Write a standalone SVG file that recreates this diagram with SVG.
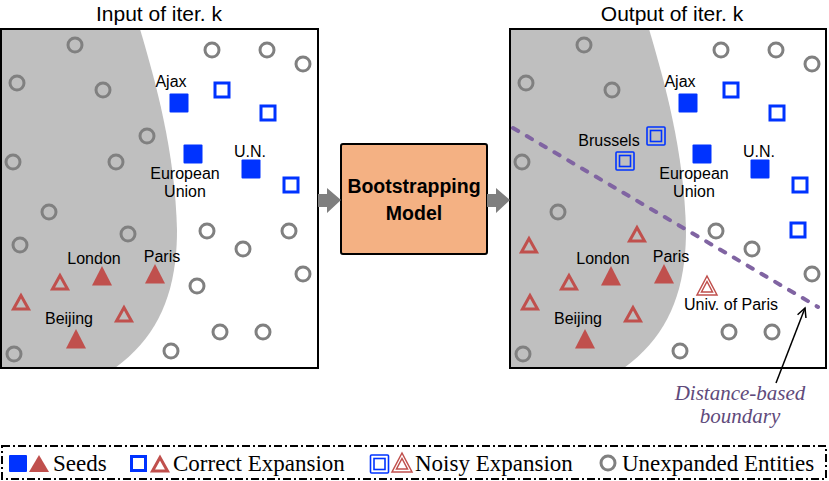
<svg xmlns="http://www.w3.org/2000/svg" xmlns:xlink="http://www.w3.org/1999/xlink" width="829" height="481" viewBox="0 0 829 481">
<style>
.title{font-family:"Liberation Sans",Arial,sans-serif;font-size:21px;fill:#000;text-anchor:middle}
.lbl{font-family:"Liberation Sans",Arial,sans-serif;font-size:16px;fill:#000;text-anchor:middle}
.bold{font-family:"Liberation Sans",Arial,sans-serif;font-size:19.5px;font-weight:bold;fill:#000;text-anchor:middle}
.leg{font-family:"Liberation Serif","Times New Roman",serif;font-size:23px;fill:#000}
.note{font-family:"Liberation Serif","Times New Roman",serif;font-size:21px;font-style:italic;fill:#604A7B;text-anchor:middle}
.panel{fill:none;stroke:#000;stroke-width:2}
.shade{fill:#BFBFBF}
.garrow{fill:#7F7F7F}
</style>
<defs>
<circle id="circ" r="7" fill="none" stroke="#808080" stroke-width="3"/>
<rect id="sq" x="-9.5" y="-9.5" width="19" height="19" rx="1" fill="#0033FF"/>
<rect id="osq" x="-7" y="-7" width="14" height="14" fill="none" stroke="#0033FF" stroke-width="3"/>
<g id="dsq" fill="none" stroke="#0033FF" stroke-width="1.6">
<rect x="-9" y="-9" width="18" height="18" rx="1"/>
<rect x="-5.5" y="-5.5" width="11" height="11"/>
</g>
<polygon id="tri" points="0,-10 -10,9.5 10,9.5" fill="#C0504D"/>
<polygon id="otri" points="0,-6.5 -7.5,7 7.5,7" fill="none" stroke="#C0504D" stroke-width="3"/>
<g id="dtri" fill="none" stroke="#C0504D" stroke-width="1.5">
<polygon points="0,-10 -10,9 10,9"/>
<polygon points="0,-4.5 -5.5,6 5.5,6"/>
</g>
<marker id="ah" markerWidth="12" markerHeight="12" refX="10" refY="5" orient="auto" markerUnits="userSpaceOnUse">
<path d="M1,0.5 L10,5 L1,9.5" fill="none" stroke="#000" stroke-width="1.5"/>
</marker>
</defs>

<!-- titles -->
<text class="title" x="159" y="21">Input of iter. k</text>
<text class="title" x="672" y="21">Output of iter. k</text>

<!-- left panel -->
<g id="left-panel">
<path class="shade" d="M1,29 L140,29 C155,80 175,150 177,230 C177,290 160,335 115,368 L1,368 Z"/>
<g id="L-c1"><use xlink:href="#circ" x="75" y="45"/></g>
<g id="L-c2"><use xlink:href="#circ" x="212" y="50"/></g>
<g id="L-c3"><use xlink:href="#circ" x="267" y="50"/></g>
<g id="L-c4"><use xlink:href="#circ" x="303" y="64"/></g>
<g id="L-c5"><use xlink:href="#circ" x="17" y="83"/></g>
<g id="L-c6"><use xlink:href="#circ" x="103" y="90"/></g>
<g id="L-c7"><use xlink:href="#circ" x="147" y="136"/></g>
<g id="L-c8"><use xlink:href="#circ" x="13" y="162"/></g>
<g id="L-c9"><use xlink:href="#circ" x="116" y="162"/></g>
<g id="L-c10"><use xlink:href="#circ" x="49" y="212"/></g>
<g id="L-c11"><use xlink:href="#circ" x="128" y="234"/></g>
<g id="L-c12"><use xlink:href="#circ" x="20" y="245"/></g>
<g id="L-c13"><use xlink:href="#circ" x="207" y="231"/></g>
<g id="L-c14"><use xlink:href="#circ" x="289" y="231"/></g>
<g id="L-c15"><use xlink:href="#circ" x="243" y="249"/></g>
<g id="L-c16"><use xlink:href="#circ" x="303" y="274"/></g>
<g id="L-c17"><use xlink:href="#circ" x="197" y="286"/></g>
<g id="L-c18"><use xlink:href="#circ" x="220" y="332"/></g>
<g id="L-c19"><use xlink:href="#circ" x="263" y="332"/></g>
<g id="L-c20"><use xlink:href="#circ" x="171" y="351"/></g>
<g id="L-c21"><use xlink:href="#circ" x="14" y="354"/></g>
<g id="L-ajax"><use xlink:href="#sq" x="179" y="103"/><text class="lbl" x="171" y="87">Ajax</text></g>
<g id="L-eu"><use xlink:href="#sq" x="193" y="154"/><text class="lbl" x="185" y="179">European</text><text class="lbl" x="185" y="197">Union</text></g>
<g id="L-un"><use xlink:href="#sq" x="251" y="169"/><text class="lbl" x="250" y="157">U.N.</text></g>
<g id="L-os1"><use xlink:href="#osq" x="222" y="90"/></g>
<g id="L-os2"><use xlink:href="#osq" x="268" y="113"/></g>
<g id="L-os3"><use xlink:href="#osq" x="291" y="185"/></g>
<g id="L-london"><use xlink:href="#tri" x="102" y="276"/><text class="lbl" x="94" y="264">London</text></g>
<g id="L-paris"><use xlink:href="#tri" x="155" y="274"/><text class="lbl" x="162" y="262">Paris</text></g>
<g id="L-beijing"><use xlink:href="#tri" x="76" y="339"/><text class="lbl" x="69" y="324">Beijing</text></g>
<g id="L-ot1"><use xlink:href="#otri" x="60" y="282"/></g>
<g id="L-ot2"><use xlink:href="#otri" x="21" y="302"/></g>
<g id="L-ot3"><use xlink:href="#otri" x="124" y="314"/></g>
<rect class="panel" x="1" y="29" width="317" height="339"/>
</g>

<!-- bootstrapping model -->
<g id="model">
<rect x="341" y="144" width="146" height="110" rx="2" fill="#F4B183" stroke="#000" stroke-width="2"/>
<text class="bold" x="414" y="193">Bootstrapping</text>
<text class="bold" x="414" y="220">Model</text>
</g>

<!-- right panel -->
<g id="right-panel">
<path class="shade" d="M510,29 L649,29 C664,80 684,150 686,230 C686,290 669,335 624,368 L510,368 Z"/>
<g id="R-c1"><use xlink:href="#circ" x="584" y="45"/></g>
<g id="R-c2"><use xlink:href="#circ" x="721" y="50"/></g>
<g id="R-c3"><use xlink:href="#circ" x="776" y="50"/></g>
<g id="R-c4"><use xlink:href="#circ" x="812" y="64"/></g>
<g id="R-c5"><use xlink:href="#circ" x="526" y="83"/></g>
<g id="R-c6"><use xlink:href="#circ" x="612" y="90"/></g>
<g id="R-c8"><use xlink:href="#circ" x="522" y="162"/></g>
<g id="R-c10"><use xlink:href="#circ" x="558" y="212"/></g>
<g id="R-c13"><use xlink:href="#circ" x="716" y="231"/></g>
<g id="R-c15"><use xlink:href="#circ" x="752" y="249"/></g>
<g id="R-c16"><use xlink:href="#circ" x="812" y="274"/></g>
<g id="R-c18"><use xlink:href="#circ" x="729" y="332"/></g>
<g id="R-c19"><use xlink:href="#circ" x="772" y="332"/></g>
<g id="R-c20"><use xlink:href="#circ" x="680" y="351"/></g>
<g id="R-c21"><use xlink:href="#circ" x="523" y="354"/></g>
<g id="R-brussels"><use xlink:href="#dsq" x="656" y="136"/><use xlink:href="#dsq" x="625" y="161"/><text class="lbl" x="609" y="146">Brussels</text></g>
<g id="R-ajax"><use xlink:href="#sq" x="688" y="103"/><text class="lbl" x="680" y="87">Ajax</text></g>
<g id="R-eu"><use xlink:href="#sq" x="702" y="154"/><text class="lbl" x="694" y="179">European</text><text class="lbl" x="694" y="197">Union</text></g>
<g id="R-un"><use xlink:href="#sq" x="760" y="169"/><text class="lbl" x="759" y="157">U.N.</text></g>
<g id="R-os1"><use xlink:href="#osq" x="731" y="90"/></g>
<g id="R-os2"><use xlink:href="#osq" x="777" y="113"/></g>
<g id="R-os3"><use xlink:href="#osq" x="800" y="185"/></g>
<g id="R-os4"><use xlink:href="#osq" x="798" y="230"/></g>
<g id="R-london"><use xlink:href="#tri" x="611" y="276"/><text class="lbl" x="603" y="264">London</text></g>
<g id="R-paris"><use xlink:href="#tri" x="664" y="274"/><text class="lbl" x="671" y="262">Paris</text></g>
<g id="R-beijing"><use xlink:href="#tri" x="585" y="339"/><text class="lbl" x="578" y="324">Beijing</text></g>
<g id="R-ot1"><use xlink:href="#otri" x="569" y="282"/></g>
<g id="R-ot2"><use xlink:href="#otri" x="530" y="302"/></g>
<g id="R-ot3"><use xlink:href="#otri" x="633" y="314"/></g>
<g id="R-ot4"><use xlink:href="#otri" x="637" y="234"/></g>
<g id="R-ot5"><use xlink:href="#otri" x="529" y="245"/></g>
<g id="R-univ"><use xlink:href="#dtri" x="707" y="286"/><text class="lbl" x="731" y="310">Univ. of Paris</text></g>
<rect class="panel" x="510" y="29" width="316" height="339"/>
</g>

<!-- connectors -->
<g id="connectors">
<polygon class="garrow" points="318,194 327,194 327,188 341,200 327,213 327,207 318,207"/>
<polygon class="garrow" points="487,194 496,194 496,188 510,200 496,213 496,207 487,207"/>
<line id="boundary" x1="513" y1="128" x2="818" y2="307" stroke="#8064A2" stroke-width="4" stroke-dasharray="6 10" stroke-linecap="round"/>
<line x1="776" y1="383" x2="805" y2="308" stroke="#000" stroke-width="1.5" marker-end="url(#ah)"/>
</g>
<g id="boundary-label">
<text class="note" x="740" y="400">Distance-based</text>
<text class="note" x="740" y="423">boundary</text>
</g>

<!-- legend -->
<g id="legend">
<rect x="2" y="446" width="824" height="33" fill="none" stroke="#000" stroke-width="2" stroke-dasharray="8 3 2 3"/>
<rect x="9" y="455" width="18" height="17" rx="1" fill="#0033FF"/>
<polygon points="39,455 29,472 49,472" fill="#C0504D"/>
<text class="leg" x="53" y="471">Seeds</text>
<rect x="131.5" y="456.5" width="14" height="14" fill="none" stroke="#0033FF" stroke-width="3"/>
<use xlink:href="#otri" x="160" y="464"/>
<text class="leg" x="173" y="471">Correct Expansion</text>
<use xlink:href="#dsq" x="379.5" y="464"/>
<use xlink:href="#dtri" x="402" y="463"/>
<text class="leg" x="415" y="471">Noisy Expansion</text>
<use xlink:href="#circ" x="608" y="463"/>
<text class="leg" x="622" y="471">Unexpanded Entities</text>
</g>
</svg>
